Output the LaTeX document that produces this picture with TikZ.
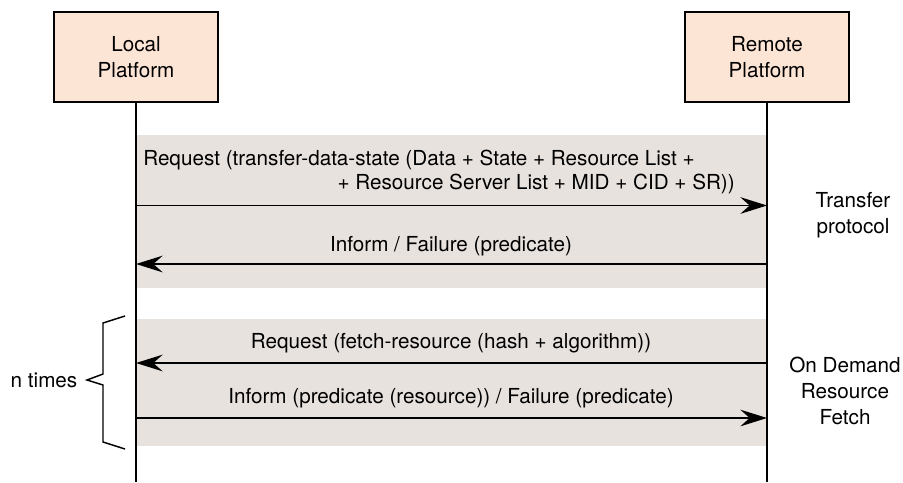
\documentclass[tikz,border=0pt]{standalone}
\usepackage{fontspec}
\setmainfont{TeX Gyre Heros}
\usetikzlibrary{arrows.meta}
\definecolor{boxfill}{HTML}{FDE5D6}
\definecolor{bandfill}{HTML}{E8E2DE}
\begin{document}
\begin{tikzpicture}[x=0.75pt,y=-0.75pt,
  every node/.style={font=\fontsize{15.5}{19.5}\selectfont, text=black, inner sep=0pt},
  platform/.style={draw, line width=1.5pt, fill=boxfill, minimum width=123pt,
    minimum height=67.5pt, align=center},
  lifeline/.style={line width=1.5pt},
  band/.style={fill=bandfill, draw=none},
  msg/.style={line width=1.1pt, -{Stealth[length=20pt,width=12.5pt,inset=7pt]}},
  lbl/.style={anchor=base},
  note/.style={align=center},
  bracket/.style={line width=1.1pt}]
\useasboundingbox (0,0) rectangle (903,482);

% shaded phases
\fill[band] (136,135) rectangle (767,288);
\fill[band] (136,319) rectangle (767,446);

% participants
\node[platform] (local) at (136,57) {Local\\Platform};
\node[platform] (remote) at (767,57) {Remote\\Platform};

% lifelines
\coordinate (localend) at (136,482);
\coordinate (remoteend) at (767,482);
\draw[lifeline] (local.south) -- (localend);
\draw[lifeline] (remote.south) -- (remoteend);

% message anchors on the lifelines
\coordinate (l1) at (136,205.5);
\coordinate (r1) at (767,205.5);
\coordinate (l2) at (136,264);
\coordinate (r2) at (767,264);
\coordinate (l3) at (136,363);
\coordinate (r3) at (767,363);
\coordinate (l4) at (136,418);
\coordinate (r4) at (767,418);

% transfer protocol
\draw[msg] (l1) -- (r1);
\node[anchor=base west] (req1a) at (143,165) {Request (transfer-data-state (Data + State + Resource List +};
\node[anchor=base east] (req1b) at (735,189) {+ Resource Server List + MID + CID + SR))};
\draw[msg] (r2) -- (l2);
\node[lbl] (inf1) at (451,251) {Inform / Failure (predicate)};

% on demand resource fetch
\draw[msg] (r3) -- (l3);
\node[lbl] (req2) at (451,348) {Request (fetch-resource (hash + algorithm))};
\draw[msg] (l4) -- (r4);
\node[lbl] (inf2) at (451,403) {Inform (predicate (resource)) / Failure (predicate)};

% phase names
\node[note] (tp) at (853,215) {Transfer\\protocol};
\node[note] (odrf) at (845,391) {On Demand\\Resource\\Fetch};

% repetition bracket
\draw[bracket] (125,316) -- (103,323) -- (103,374) -- (87,380) -- (103,385)
  -- (103,442) -- (125,449);
\node (ntimes) at (44,380) {n times};
\end{tikzpicture}
\end{document}
